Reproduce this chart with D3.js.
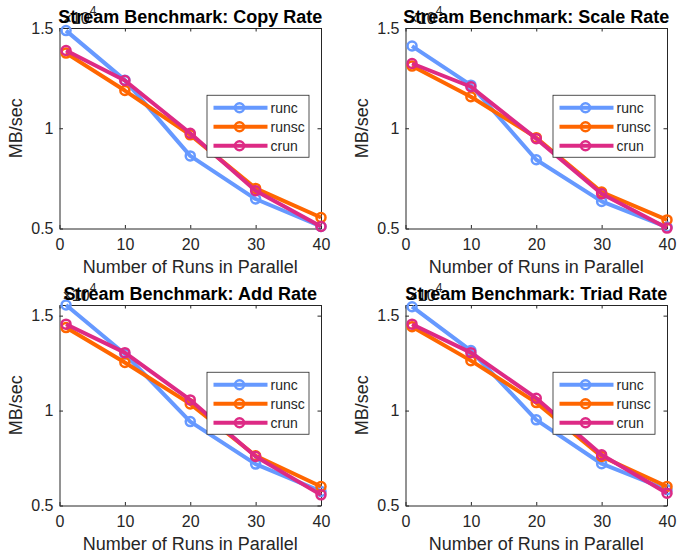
<!DOCTYPE html>
<html>
<head>
<meta charset="utf-8">
<script src="https://cdn.jsdelivr.net/npm/d3@7"></script>
<style>
  body { margin: 0; background: #fff; }
  text { font-family: "Liberation Sans", Arial, sans-serif; }
</style>
</head>
<body>
<script>
// run counts on the x axis
var runCounts = [1, 10, 20, 30, 40];
var seriesNames = ['runc', 'runsc', 'crun'];
var seriesColors = ['#6699ff', '#ff6600', '#dd2a85'];

// values are in units of 10^4 MB/sec
var copyRunc  = [1.487, 1.240, 0.862, 0.647, 0.510];
var copyRunsc = [1.375, 1.188, 0.967, 0.700, 0.555];
var copyCrun  = [1.388, 1.238, 0.975, 0.688, 0.510];

var scaleRunc  = [1.410, 1.215, 0.843, 0.635, 0.507];
var scaleRunsc = [1.310, 1.157, 0.953, 0.682, 0.543];
var scaleCrun  = [1.323, 1.207, 0.948, 0.673, 0.502];

var addRunc  = [1.556, 1.298, 0.942, 0.718, 0.574];
var addRunsc = [1.437, 1.253, 1.035, 0.762, 0.600];
var addCrun  = [1.455, 1.305, 1.056, 0.758, 0.556];

var triadRunc  = [1.547, 1.316, 0.951, 0.720, 0.583];
var triadRunsc = [1.442, 1.263, 1.042, 0.758, 0.600];
var triadCrun  = [1.455, 1.305, 1.065, 0.767, 0.565];

var titles = ['Stream Benchmark: Copy Rate', 'Stream Benchmark: Scale Rate',
              'Stream Benchmark: Add Rate', 'Stream Benchmark: Triad Rate'];
var xTicks = [0, 10, 20, 30, 40];
var yTicks = [0.5, 1, 1.5];
var yMaxTop = 1.5, yMaxBottom = 1.556;

var width = 679, height = 556;

var svg = d3.select('body').append('svg')
    .attr('width', width)
    .attr('height', height);

// panel boxes (axes areas) in pixels
var panels = [
  { left: 59.5,  top: 28,  ymax: yMaxTop,    series: [copyRunc, copyRunsc, copyCrun] },
  { left: 405.5, top: 28,  ymax: yMaxTop,    series: [scaleRunc, scaleRunsc, scaleCrun] },
  { left: 59.5,  top: 305, ymax: yMaxBottom, series: [addRunc, addRunsc, addCrun] },
  { left: 405.5, top: 305, ymax: yMaxBottom, series: [triadRunc, triadRunsc, triadCrun] }
];
var pw = 261.5, ph = 200.5;
var axisColor = '#262626';

panels.forEach(function(p, i) {
  var g = svg.append('g')
      .attr('transform', 'translate(' + p.left + ',' + p.top + ')');

  var x = d3.scaleLinear().domain([0, 40]).range([0, pw]);
  var y = d3.scaleLinear().domain([0.5, p.ymax]).range([ph, 0]);

  // axes: bottom/left with labels, top/right ticks only (box on, ticks in)
  var bottom = g.append('g')
      .attr('transform', 'translate(0,' + ph + ')')
      .call(d3.axisBottom(x).tickValues(xTicks).tickSizeInner(-3.5).tickSizeOuter(0).tickPadding(10));
  var top = g.append('g')
      .call(d3.axisTop(x).tickValues(xTicks).tickSizeInner(-3.5).tickSizeOuter(0).tickFormat(''));
  var left = g.append('g')
      .call(d3.axisLeft(y).tickValues(yTicks).tickSizeInner(-3.5).tickSizeOuter(0).tickPadding(6).tickFormat(d3.format('')));
  var right = g.append('g')
      .attr('transform', 'translate(' + pw + ',0)')
      .call(d3.axisRight(y).tickValues(yTicks).tickSizeInner(-3.5).tickSizeOuter(0).tickFormat(''));

  [bottom, top, left, right].forEach(function(a) {
    a.selectAll('path').attr('stroke', axisColor).attr('stroke-width', 1);
    a.selectAll('line').attr('stroke', axisColor);
    a.selectAll('text').attr('fill', axisColor).style('font-size', '16px');
  });
  bottom.selectAll('text').attr('dy', '0.71em');

  // x label
  g.append('text')
      .attr('x', pw / 2)
      .attr('y', ph + 44)
      .attr('text-anchor', 'middle')
      .attr('fill', axisColor)
      .style('font-size', '18px')
      .text('Number of Runs in Parallel');

  // y label
  g.append('text')
      .attr('transform', 'translate(-38,' + (ph / 2) + ') rotate(-90)')
      .attr('text-anchor', 'middle')
      .attr('fill', axisColor)
      .style('font-size', '18px')
      .text('MB/sec');

  // exponent label x10^4
  var ex = g.append('text')
      .attr('x', 3)
      .attr('y', -4)
      .attr('fill', axisColor)
      .style('font-size', '16px');
  ex.append('tspan').text('\u00d710');
  ex.append('tspan').attr('dy', -9).style('font-size', '12px').text('4');

  // lines and markers
  var line = d3.line()
      .x(function(d, j) { return x(runCounts[j]); })
      .y(function(d) { return y(d); });

  p.series.forEach(function(vals, s) {
    g.append('path')
        .datum(vals)
        .attr('d', line)
        .attr('fill', 'none')
        .attr('stroke', seriesColors[s])
        .attr('stroke-width', 4)
        .attr('stroke-linejoin', 'round');
    g.selectAll('.m' + s)
        .data(vals)
        .enter().append('circle')
        .attr('class', 'm' + s)
        .attr('cx', function(d, j) { return x(runCounts[j]); })
        .attr('cy', function(d) { return y(d); })
        .attr('r', 4.5)
        .attr('fill', 'none')
        .attr('stroke', seriesColors[s])
        .attr('stroke-width', 2.5);
  });

  // title over everything in the top strip
  g.append('text')
      .attr('x', pw / 2)
      .attr('y', -5.5)
      .attr('text-anchor', 'middle')
      .attr('fill', '#000')
      .style('font-size', '18px')
      .style('font-weight', 'bold')
      .text(titles[i]);

  // legend
  var lw = 102, lh = 62;
  var leg = g.append('g')
      .attr('transform', 'translate(' + (pw - 12 - lw) + ',' + (ph / 2 - lh / 2 - 2) + ')');
  leg.append('rect')
      .attr('width', lw)
      .attr('height', lh)
      .attr('fill', '#fff')
      .attr('stroke', axisColor)
      .attr('stroke-width', 0.8);
  seriesNames.forEach(function(name, s) {
    var ry = 12.5 + s * 19;
    leg.append('line')
        .attr('x1', 6.5).attr('x2', 60.5)
        .attr('y1', ry).attr('y2', ry)
        .attr('stroke', seriesColors[s])
        .attr('stroke-width', 4);
    leg.append('circle')
        .attr('cx', 32.5).attr('cy', ry).attr('r', 4.5)
        .attr('fill', 'none')
        .attr('stroke', seriesColors[s])
        .attr('stroke-width', 2.5);
    leg.append('text')
        .attr('x', 63.5)
        .attr('y', ry + 5)
        .attr('fill', axisColor)
        .style('font-size', '14px')
        .text(name);
  });
});
</script>
</body>
</html>
